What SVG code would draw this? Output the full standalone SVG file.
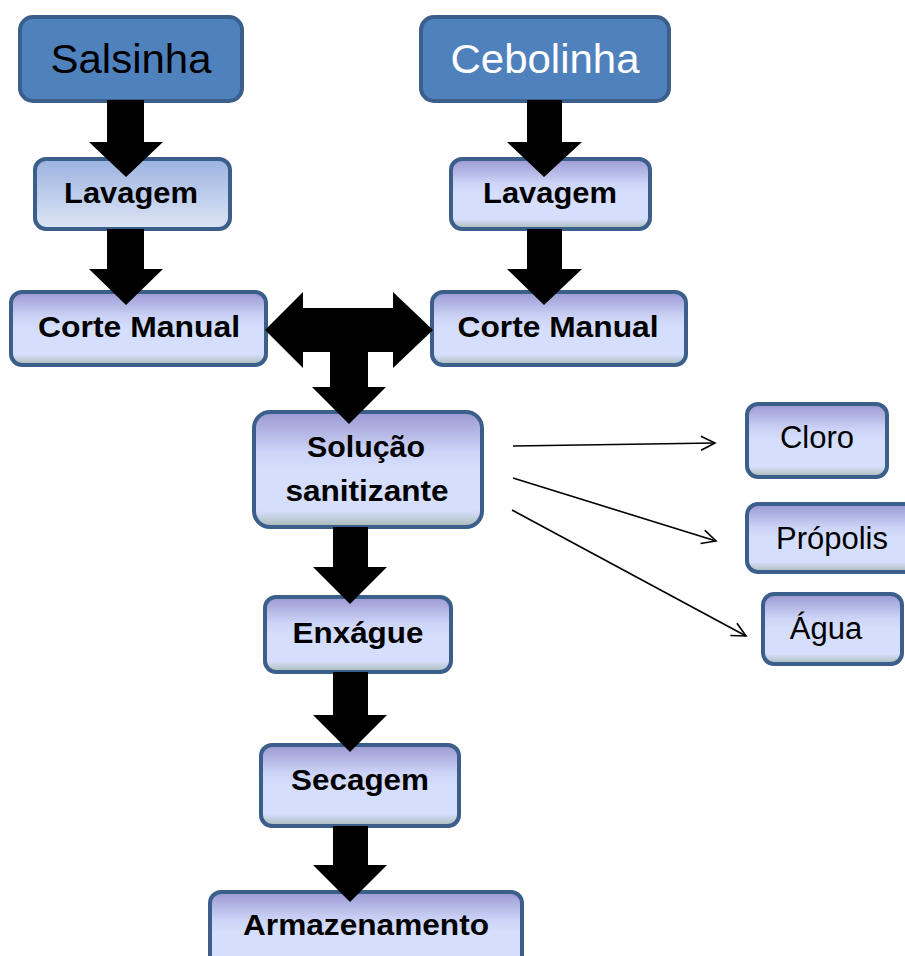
<svg xmlns="http://www.w3.org/2000/svg" width="905" height="956" viewBox="0 0 905 956">
<defs>
<linearGradient id="gBlue" x1="0" y1="0" x2="0" y2="1">
<stop offset="0" stop-color="#9BB3E1"/>
<stop offset="1" stop-color="#DDE5F4"/>
</linearGradient>
<linearGradient id="gLav" x1="0" y1="0" x2="0" y2="1">
<stop offset="0" stop-color="#9A99D2"/>
<stop offset="0.35" stop-color="#CDD4F7"/>
<stop offset="0.5" stop-color="#D5DEFC"/>
<stop offset="0.86" stop-color="#D5DEFC"/>
<stop offset="1" stop-color="#A8BAB4"/>
</linearGradient>
<marker id="openArrow" markerWidth="20" markerHeight="20" refX="16" refY="8" orient="auto" markerUnits="userSpaceOnUse">
<path d="M2,1 L16,8 L2,15" fill="none" stroke="#000" stroke-width="1.6"/>
</marker>
</defs>
<style>
.dark rect{fill:#4F81BD;stroke:#3B5E8B;stroke-width:4}
.box rect{fill:url(#gLav);stroke:#3B5E8B;stroke-width:4}
.boxb rect{fill:url(#gBlue);stroke:#3B5E8B;stroke-width:4}
text{font-family:"Liberation Sans",Arial,sans-serif;text-anchor:middle}
.big{font-size:41px}
.bold{font-size:30px;font-weight:bold;fill:#000}
.reg{font-size:31px;fill:#000}
.thick{fill:#000}
.thin{stroke:#000;stroke-width:1.6;fill:none}
</style>
<g id="salsinha" class="dark"><rect x="20" y="17" width="222" height="84" rx="13"/><text class="big" x="131" y="73" fill="#000" textLength="161" lengthAdjust="spacingAndGlyphs">Salsinha</text></g>
<g id="cebolinha" class="dark"><rect x="421" y="17" width="248" height="84" rx="13"/><text class="big" x="545" y="73" fill="#FFF" textLength="189" lengthAdjust="spacingAndGlyphs">Cebolinha</text></g>
<g id="lavagem1" class="boxb"><rect x="35" y="159" width="195" height="70" rx="11"/><text class="bold" x="131" y="203" textLength="134" lengthAdjust="spacingAndGlyphs">Lavagem</text></g>
<g id="lavagem2" class="box"><rect x="451" y="159" width="199" height="70" rx="11"/><text class="bold" x="550" y="203" textLength="134" lengthAdjust="spacingAndGlyphs">Lavagem</text></g>
<g id="corte1" class="box"><rect x="11" y="292" width="255" height="73" rx="11"/><text class="bold" x="139" y="337" textLength="202" lengthAdjust="spacingAndGlyphs">Corte Manual</text></g>
<g id="corte2" class="box"><rect x="432" y="292" width="254" height="73" rx="11"/><text class="bold" x="558" y="337" textLength="201" lengthAdjust="spacingAndGlyphs">Corte Manual</text></g>
<g id="solucao" class="box"><rect x="254" y="412" width="228" height="115" rx="16"/><text class="bold" x="366" y="457" textLength="118" lengthAdjust="spacingAndGlyphs">Solução</text><text class="bold" x="367" y="501" textLength="163" lengthAdjust="spacingAndGlyphs">sanitizante</text></g>
<g id="enxague" class="box"><rect x="265" y="597" width="186" height="75" rx="11"/><text class="bold" x="358" y="643" textLength="131" lengthAdjust="spacingAndGlyphs">Enxágue</text></g>
<g id="secagem" class="box"><rect x="261" y="745" width="198" height="81" rx="11"/><text class="bold" x="360" y="790" textLength="138" lengthAdjust="spacingAndGlyphs">Secagem</text></g>
<g id="armazenamento" class="box"><rect x="210" y="892" width="312" height="80" rx="11"/><text class="bold" x="366" y="935" textLength="246" lengthAdjust="spacingAndGlyphs">Armazenamento</text></g>
<g id="cloro" class="box"><rect x="747" y="404" width="140" height="73" rx="11"/><text class="reg" x="817" y="448">Cloro</text></g>
<g id="propolis" class="box"><rect x="747" y="504" width="170" height="68" rx="11"/><text class="reg" x="832" y="549">Própolis</text></g>
<g id="agua" class="box"><rect x="763" y="594" width="139" height="70" rx="11"/><text class="reg" x="826" y="639">Água</text></g>
<g id="connectors">
<polygon class="thick" points="107,100 144,100 144,142 163,142 126,177 89,142 107,142"/>
<polygon class="thick" points="107,229 144,229 144,269 163,269 126,305 89,269 107,269"/>
<polygon class="thick" points="527,100 562,100 562,142 582,142 544,177 507,142 527,142"/>
<polygon class="thick" points="527,229 562,229 562,269 582,269 544,305 507,269 527,269"/>
<polygon class="thick" points="265,330 303,292 303,308 393,308 393,292 433,330 393,368 393,352 368,352 368,387 386,387 349,424 312,387 330,387 330,352 303,352 303,368"/>
<polygon class="thick" points="333,527 368,527 368,567 387,567 350,604 313,567 333,567"/>
<polygon class="thick" points="333,672 368,672 368,715 387,715 350,752 313,715 333,715"/>
<polygon class="thick" points="333,826 368,826 368,865 387,865 350,902 313,865 333,865"/>
<line class="thin" x1="513" y1="446" x2="715" y2="443" marker-end="url(#openArrow)"/>
<line class="thin" x1="513" y1="478" x2="716" y2="541" marker-end="url(#openArrow)"/>
<line class="thin" x1="512" y1="510" x2="746" y2="636" marker-end="url(#openArrow)"/>
</g>
</svg>
